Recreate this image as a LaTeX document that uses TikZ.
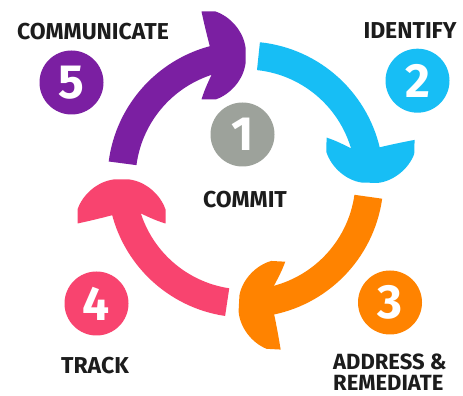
\documentclass[tikz,border=0pt]{standalone}
\usepackage{fontspec}
\setmainfont{Fira Sans}
\usetikzlibrary{calc}
\definecolor{cpurple}{HTML}{7B1FA2}
\definecolor{cblue}{HTML}{17BEF5}
\definecolor{corange}{HTML}{FF8300}
\definecolor{cpink}{HTML}{F8446F}
\definecolor{cgray}{HTML}{9DA29B}
\definecolor{ctext}{HTML}{1C1C1C}
\tikzset{
  lbl/.style={font=\bfseries\fontsize{23}{21}\selectfont, text=ctext, inner sep=0pt},
  num/.style={circle, minimum size=64pt, inner sep=0pt, text=white,
    font=\bfseries\fontsize{48}{48}\selectfont},
}
\begin{document}
\begin{tikzpicture}[x=1pt,y=1pt]
\useasboundingbox (0,0) rectangle (463,396);
\fill[white] (0,0) rectangle (463,396);
\coordinate (C) at (245.5,216.5);
\foreach \col/\aS/\aT in {cpurple/172.5/90, cblue/84/-1.5, corange/-8/-93, cpink/261.5/180} {
  \pgfmathsetmacro\aE{\aT+12}
  \fill[\col] ([shift={(\aS:138)}]C) arc[start angle=\aS, end angle=\aE, radius=138]
     -- ([shift={(\aE:110)}]C) arc[start angle=\aE, end angle=\aS, radius=110] -- cycle;
  \begin{scope}[shift={($(C)+(\aT:124)$)}, rotate=\aT-90]
    \fill[\col] (0,8) .. controls (-2,24) and (-15,39) .. (-30,44) -- (-44,44)
      .. controls (-41,30) and (-38,18) .. (-35.7,9.3) -- (-34,-19.4)
      .. controls (-37,-26) and (-41,-34) .. (-44,-44) -- (-30,-44)
      .. controls (-15,-39) and (-2,-24) .. (0,-8) -- cycle;
  \end{scope}
}
\node[num, fill=cgray]   (n1) at (242.5,261.5) {1};
\node[num, fill=cblue]   (n2) at (417.5,315.3) {2};
\node[num, fill=corange] (n3) at (390,93.5) {3};
\node[num, fill=cpink]   (n4) at (96.5,92.5) {4};
\node[num, fill=cpurple] (n5) at (71.5,313.5) {5};
\node[lbl] (t5) at (93,364.5) {COMMUNICATE};
\node[lbl] (t2) at (410,365) {IDENTIFY};
\node[lbl] (t1) at (245,196.5) {COMMIT};
\node[lbl] (t4) at (95,30.5) {TRACK};
\node[lbl, font=\bfseries\fontsize{22}{21}\selectfont, align=left, anchor=north west] (t3) at (333,42) {ADDRESS \&\\REMEDIATE};
\end{tikzpicture}
\end{document}
